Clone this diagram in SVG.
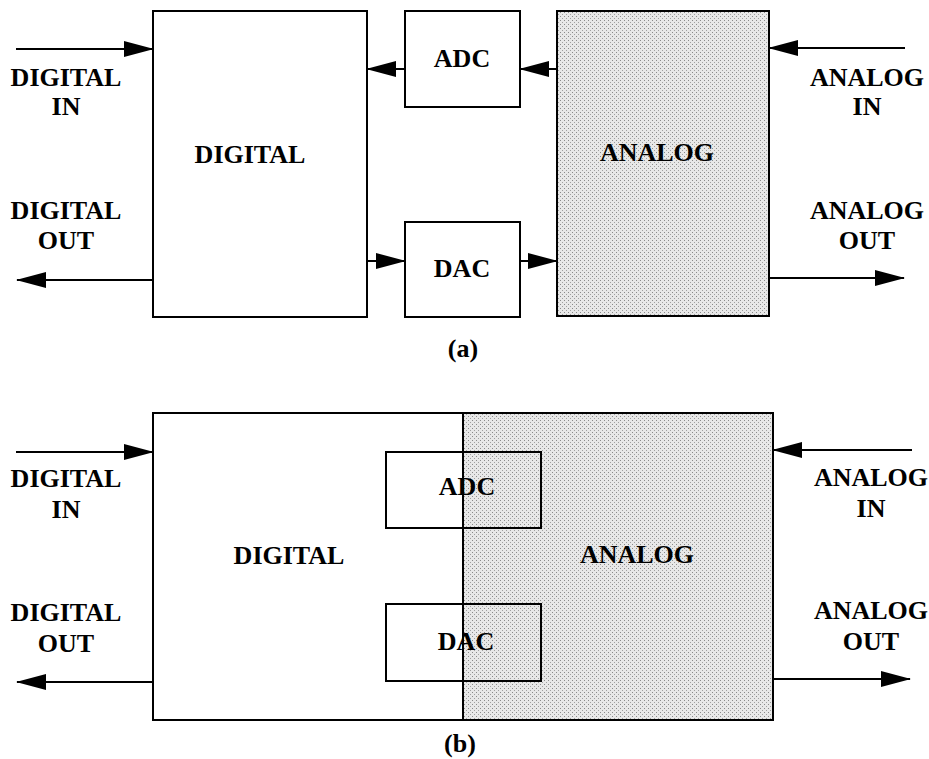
<svg xmlns="http://www.w3.org/2000/svg" width="929" height="759" viewBox="0 0 929 759">
<defs>
<pattern id="stip" width="4" height="4" patternUnits="userSpaceOnUse">
<rect width="4" height="4" fill="#e8e8e8"/>
<rect x="0" y="0" width="1" height="1" fill="#8a8a8a"/>
<rect x="2" y="2" width="1" height="1" fill="#a0a0a0"/>
</pattern>
<marker id="ah" markerWidth="30" markerHeight="16" refX="29" refY="8" orient="auto" markerUnits="userSpaceOnUse">
<path d="M0,0 L30,8 L0,16 Z" fill="#000"/>
</marker>
</defs>
<style>
.box{fill:#fff;stroke:#000;stroke-width:2}
.sh{fill:url(#stip);stroke:#000;stroke-width:2}
.ol{fill:none;stroke:#000;stroke-width:2}
.ln{stroke:#000;stroke-width:2;fill:none;marker-end:url(#ah)}
text{font-family:"Liberation Serif","Times New Roman",serif;font-weight:bold;font-size:26px;text-anchor:middle;fill:#000}
</style>
<rect width="929" height="759" fill="#fff"/>

<!-- (a) -->
<g id="a-digital"><rect class="box" x="153" y="11" width="214" height="306"/><text x="250" y="163">DIGITAL</text></g>
<g id="a-adc"><rect class="box" x="405" y="11" width="115" height="96"/><text x="462" y="67">ADC</text></g>
<g id="a-dac"><rect class="box" x="405" y="222" width="115" height="95"/><text x="462" y="277">DAC</text></g>
<g id="a-analog"><rect class="sh" x="557" y="11" width="212" height="305"/><text x="657" y="161">ANALOG</text></g>
<g id="a-din"><text x="66" y="86">DIGITAL</text><text x="66" y="115">IN</text></g>
<g id="a-dout"><text x="66" y="219">DIGITAL</text><text x="66" y="249">OUT</text></g>
<g id="a-ain"><text x="867" y="86">ANALOG</text><text x="867" y="115">IN</text></g>
<g id="a-aout"><text x="867" y="219">ANALOG</text><text x="867" y="249">OUT</text></g>
<text x="463" y="357">(a)</text>

<!-- (b) -->
<g id="b-digital"><rect class="box" x="153" y="413" width="310" height="307"/><text x="289" y="564">DIGITAL</text></g>
<g id="b-analog"><rect class="sh" x="463" y="413" width="310" height="307"/><text x="637" y="563">ANALOG</text></g>
<g id="b-adc"><rect class="ol" x="386" y="452" width="155" height="76"/><text x="467" y="495">ADC</text></g>
<g id="b-dac"><rect class="ol" x="386" y="604" width="155" height="77"/><text x="466" y="650">DAC</text></g>
<g id="b-din"><text x="66" y="487">DIGITAL</text><text x="66" y="518">IN</text></g>
<g id="b-dout"><text x="66" y="621">DIGITAL</text><text x="66" y="652">OUT</text></g>
<g id="b-ain"><text x="871" y="486">ANALOG</text><text x="871" y="517">IN</text></g>
<g id="b-aout"><text x="871" y="619">ANALOG</text><text x="871" y="650">OUT</text></g>
<text x="460" y="752">(b)</text>

<g id="connectors">
<line class="ln" x1="16" y1="49" x2="153" y2="49"/>
<line class="ln" x1="153" y1="280" x2="17" y2="280"/>
<line class="ln" x1="405" y1="69" x2="367" y2="69"/>
<line class="ln" x1="557" y1="69" x2="520" y2="69"/>
<line class="ln" x1="367" y1="261" x2="405" y2="261"/>
<line class="ln" x1="520" y1="261" x2="557" y2="261"/>
<line class="ln" x1="905" y1="48" x2="769" y2="48"/>
<line class="ln" x1="769" y1="278" x2="904" y2="278"/>
<line class="ln" x1="16" y1="452" x2="153" y2="452"/>
<line class="ln" x1="153" y1="682" x2="17" y2="682"/>
<line class="ln" x1="912" y1="450" x2="773" y2="450"/>
<line class="ln" x1="773" y1="679" x2="910" y2="679"/>
</g>
</svg>
